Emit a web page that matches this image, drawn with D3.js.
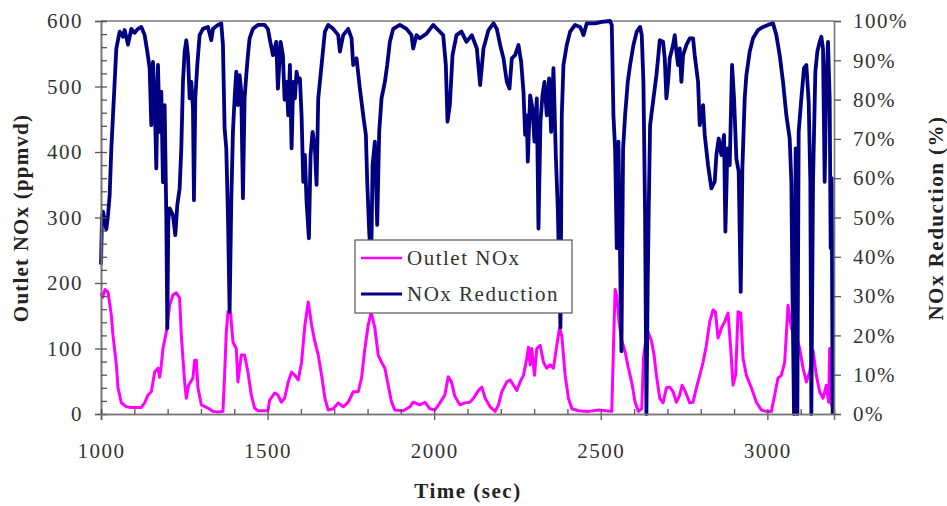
<!DOCTYPE html>
<html>
<head>
<meta charset="utf-8">
<title>Outlet NOx and NOx Reduction</title>
<script src="https://d3js.org/d3.v7.min.js"></script>
<style>
  body { margin: 0; background: #fff; }
  svg text { font-family: "Liberation Serif", "Times New Roman", serif; font-size: 21px; letter-spacing: 1.5px; fill: #333; }
</style>
</head>
<body>
<div id="chart"></div>
<script>

// Outlet NOx (ppmvd)
var noxTime = [1000,1005,1012,1021,1031,1036,1046,1051,1061,1076,1090,1105,1120,1131,1141,1151,1156,1161,1171,1176,
  1181,1186,1196,1206,1216,1226,1236,1241,1251,1256,1263,1276,1281,1286,1291,1301,1321,1336,1351,1366,
  1371,1376,1381,1389,1396,1406,1411,1421,1431,1441,1451,1461,1471,1491,1501,1506,1521,1531,1541,1551,
  1562,1572,1582,1592,1602,1612,1622,1632,1642,1652,1662,1672,1682,1697,1712,1727,1742,1757,1772,1782,
  1792,1802,1811,1822,1832,1842,1852,1862,1872,1882,1907,1927,1937,1957,1972,1987,2002,2017,2032,2042,
  2052,2062,2077,2092,2107,2118,2133,2143,2153,2168,2183,2193,2203,2218,2228,2238,2248,2258,2268,2278,
  2283,2288,2293,2301,2308,2318,2328,2338,2348,2358,2368,2376,2383,2393,2403,2413,2433,2463,2493,2513,
  2533,2538,2543,2548,2555,2563,2573,2583,2593,2603,2613,2623,2628,2638,2642,2652,2660,2667,2677,2687,
  2697,2707,2717,2727,2737,2744,2754,2767,2777,2787,2797,2807,2817,2827,2837,2844,2852,2862,2872,2882,
  2890,2897,2905,2912,2920,2927,2937,2952,2967,2982,2997,3012,3022,3032,3042,3052,3062,3072,3087,3097,
  3107,3117,3127,3137,3147,3157,3167,3177,3184,3187,3192,3197];
var noxPpm = [185,178,190,186,151,120,75,40,17,11,10,10,10,17,29,34,49,64,70,56,
  75,100,125,166,182,185,177,120,49,24,44,55,82,82,40,14,9,4,3,4,
  60,125,156,154,110,100,49,90,90,64,29,9,5,5,5,21,32,29,18,24,
  49,64,59,52,79,136,171,136,110,90,59,24,6,8,17,11,18,34,34,55,
  100,136,155,131,90,79,70,44,18,6,5,11,18,14,18,8,6,17,29,57,
  49,27,14,17,18,24,36,41,24,11,4,14,34,49,52,44,36,49,59,85,
  102,75,100,59,100,105,79,70,75,70,105,131,120,59,24,8,5,4,6,5,
  4,100,190,180,140,112,95,70,48,18,4,8,85,125,125,112,90,59,24,17,
  40,41,34,18,29,44,34,17,18,40,59,79,105,141,159,156,116,131,141,154,
  100,44,60,156,154,85,59,40,18,6,4,4,29,55,59,79,166,131,120,100,
  70,49,64,97,59,34,24,44,18,100,14,20];

// NOx Reduction (%)
var redTime = [1000,1003,1006,1016,1021,1026,1031,1036,1041,1046,1056,1066,1071,1081,1091,1101,1111,1121,1131,1139,
  1146,1151,1156,1161,1166,1171,1176,1181,1186,1191,1196,1199,1202,1206,1216,1223,1229,1236,1241,1246,
  1251,1256,1261,1266,1271,1276,1279,1283,1289,1296,1306,1321,1331,1336,1351,1361,1366,1371,1376,1381,
  1386,1391,1396,1401,1406,1411,1416,1421,1426,1431,1436,1441,1446,1456,1471,1491,1501,1506,1516,1526,
  1531,1539,1546,1551,1557,1562,1567,1572,1577,1582,1587,1592,1597,1602,1607,1612,1617,1624,1629,1635,
  1642,1647,1652,1657,1662,1667,1672,1682,1697,1712,1717,1727,1742,1752,1757,1767,1777,1787,1795,1799,
  1805,1809,1812,1815,1822,1829,1835,1842,1852,1859,1867,1877,1897,1917,1932,1937,1947,1957,1977,1997,
  2012,2027,2035,2040,2047,2055,2067,2082,2097,2113,2128,2138,2148,2163,2178,2188,2198,2208,2218,2226,
  2233,2243,2253,2261,2268,2273,2278,2281,2288,2295,2301,2308,2313,2319,2325,2331,2338,2345,2351,2358,
  2365,2371,2379,2383,2388,2398,2408,2423,2438,2448,2458,2483,2503,2528,2533,2538,2543,2548,2553,2562,
  2567,2573,2581,2588,2598,2608,2618,2623,2628,2633,2637,2641,2644,2648,2657,2667,2672,2677,2687,2692,
  2697,2702,2707,2717,2722,2727,2732,2737,2742,2747,2757,2767,2777,2782,2792,2797,2807,2812,2822,2832,
  2842,2847,2854,2862,2870,2874,2880,2887,2894,2900,2907,2914,2920,2925,2932,2937,2947,2957,2972,2987,
  3002,3017,3027,3037,3047,3057,3067,3072,3075,3080,3085,3090,3094,3102,3110,3117,3124,3129,3132,3137,
  3144,3150,3157,3162,3167,3172,3177,3182,3187,3190,3193,3196];
var redPct = [38,50,51.5,47,50.6,55.7,67.6,76,84.5,93,97.3,96,97.7,94,98,97,98,98.5,96.4,92.2,
  88,73.5,89.6,80.3,62.5,88.8,71.8,82,59,78.6,50.6,21.8,49,52.3,50.6,45.5,53.2,57.4,67.6,84.5,
  92.2,95.1,91.3,80.3,84.5,77.8,54.4,80.3,88.8,96.4,98,98.5,95.1,98,99,99.4,93.9,72.7,67.6,50.6,
  26,54,71.8,80.3,87.1,78.6,86.2,82,54.9,80.3,86.2,91.3,95.6,98,99,99,98,95.6,91.3,94.7,
  82.8,94.7,91.3,80,84.5,76,88.8,67.6,84.5,80.3,87.1,84.5,85.4,76,59.1,65.9,54,44.7,65.9,71.8,
  67.6,58.3,80.3,84.5,88.8,93,97.3,99,98,96.4,92.2,96.4,98,95.6,88.8,90.5,82.8,76,71,59.1,
  46.4,40,45,63.3,69.3,48.1,71.8,80.3,84.5,88.8,94.7,98,99,98,96.4,93,96.4,95.6,96.8,99,
  97.7,96.4,88.8,74.4,78.6,91.3,96.4,97.3,94.7,96.4,93,83.7,93,97.7,99.4,98,93.9,90.5,84.5,82.8,
  90.5,91.3,93.9,89.6,82,71,76,64.2,81.1,77.8,69.3,80.3,47.2,74.4,81.1,84.5,76,85.4,71.8,88,
  65.9,52.3,22,76,88.8,93.9,97.3,99,98.5,96.4,99.4,99.4,99.8,100,99,76,67.6,42.2,69.3,16,
  67.6,76,84.5,88.8,93.9,97.3,98.5,96.4,84.5,50.6,0,33.7,52.3,73.5,79.5,86.2,90.5,95.1,94.7,90.5,
  80.3,84.5,90.5,93.9,96.4,92.2,88.8,93,84.5,91.3,93.9,95.6,95.6,91.3,84.5,73.5,78.6,71,63.3,57.4,
  59.1,65.9,70.1,65.9,71,46.4,67.6,63.3,88.8,80.3,65,61.6,31.1,62.5,80.3,86.2,92.2,95.6,97.7,98.5,
  99,99.4,96.4,91.3,84.5,76,70.1,59.1,33.7,0,67.6,0,71.8,80.3,88,88.8,79.5,59.1,0,59.1,
  87.1,92.2,94.7,96,93,59.1,84.5,94.7,80.3,42.2,60,0];

// axis ticks
var timeMajor = [1000, 1500, 2000, 2500, 3000];
var ppmTicks = [0, 100, 200, 300, 400, 500, 600];
var pctTicks = [0, 10, 20, 30, 40, 50, 60, 70, 80, 90, 100];
var seriesNames = ["Outlet NOx", "NOx Reduction"];
var seriesColors = ["#ff00ff", "#000080"];

var W = 947, H = 506;
var plotL = 101, plotR = 834, plotT = 21, plotB = 414;

var svg = d3.select("#chart").append("svg")
  .attr("width", W).attr("height", H);

var x = d3.scaleLinear().domain([1000, 3200]).range([plotL, plotR]);
var yL = d3.scaleLinear().domain([0, 600]).range([plotB, plotT]);
var yR = d3.scaleLinear().domain([0, 100]).range([plotB, plotT]);

// top border of the plot
svg.append("line")
  .attr("x1", plotL).attr("x2", plotR).attr("y1", plotT).attr("y2", plotT)
  .attr("stroke", "#999").attr("stroke-width", 2);

// data lines
var noxData = noxTime.map(function(t, i) { return {t: t, v: noxPpm[i]}; });
var redData = redTime.map(function(t, i) { return {t: t, v: redPct[i]}; });

svg.append("path")
  .datum(noxData)
  .attr("fill", "none")
  .attr("stroke", seriesColors[0])
  .attr("stroke-width", 3)
  .attr("stroke-linejoin", "round")
  .attr("d", d3.line().x(function(d) { return x(d.t); }).y(function(d) { return yL(d.v); }));

svg.append("path")
  .datum(redData)
  .attr("fill", "none")
  .attr("stroke", seriesColors[1])
  .attr("stroke-width", 3.8)
  .attr("stroke-linejoin", "round")
  .attr("d", d3.line().x(function(d) { return x(d.t); }).y(function(d) { return yR(d.v); }));

// left axis: major ticks outside, minor ticks inside
svg.append("g").attr("transform", "translate(" + plotL + ",0)")
  .call(d3.axisLeft(yL).tickValues(ppmTicks).tickSize(6).tickPadding(12));
svg.append("g").attr("transform", "translate(" + plotL + ",0)")
  .call(d3.axisRight(yL).tickValues(d3.range(0, 601, 20)).tickSize(6).tickFormat(""));

// bottom axis: major ticks outside, minor inside
svg.append("g").attr("transform", "translate(0," + plotB + ")")
  .call(d3.axisBottom(x).tickValues(timeMajor).tickSize(6).tickPadding(23).tickFormat(d3.format("d")));
svg.append("g").attr("transform", "translate(0," + plotB + ")")
  .call(d3.axisTop(x).tickValues(d3.range(1000, 3201, 100)).tickSize(5).tickFormat(""));

// right axis
svg.append("g").attr("transform", "translate(" + plotR + ",0)")
  .call(d3.axisRight(yR).tickValues(pctTicks).tickSize(7).tickPadding(12)
    .tickFormat(function(d) { return d + "%"; }));

svg.selectAll(".domain").attr("stroke", "#777").attr("stroke-width", 1.6);
svg.selectAll(".tick line").attr("stroke", "#555").attr("stroke-width", 1.3);
svg.selectAll(".tick text").attr("font-family", null).attr("font-size", null).attr("fill", "#333");

// axis titles
svg.append("text")
  .attr("transform", "translate(28,218) rotate(-90)")
  .attr("text-anchor", "middle")
  .style("font-weight", "bold").style("letter-spacing", "1.2px").style("fill", "#222")
  .text("Outlet NOx (ppmvd)");

svg.append("text")
  .attr("transform", "translate(943,218) rotate(-90)")
  .attr("text-anchor", "middle")
  .style("font-weight", "bold").style("fill", "#222")
  .text("NOx Reduction (%)");

svg.append("text")
  .attr("x", 468).attr("y", 498)
  .attr("text-anchor", "middle")
  .style("font-weight", "bold").style("fill", "#222")
  .text("Time (sec)");

// legend
var lg = svg.append("g");
lg.append("rect")
  .attr("x", 355).attr("y", 240).attr("width", 217).attr("height", 73)
  .attr("fill", "#fff").attr("stroke", "#555").attr("stroke-width", 1.2);
var item = lg.selectAll(".item").data(seriesNames).enter().append("g")
  .attr("transform", function(d, i) { return "translate(0," + (258 + i * 36) + ")"; });
item.append("line")
  .attr("x1", 361).attr("x2", 402).attr("y1", 0).attr("y2", 0)
  .attr("stroke", function(d, i) { return seriesColors[i]; })
  .attr("stroke-width", function(d, i) { return i ? 3 : 2.6; });
item.append("text")
  .attr("x", 407).attr("y", 0).attr("dy", "0.35em")
  .text(function(d) { return d; });

</script>
</body>
</html>
